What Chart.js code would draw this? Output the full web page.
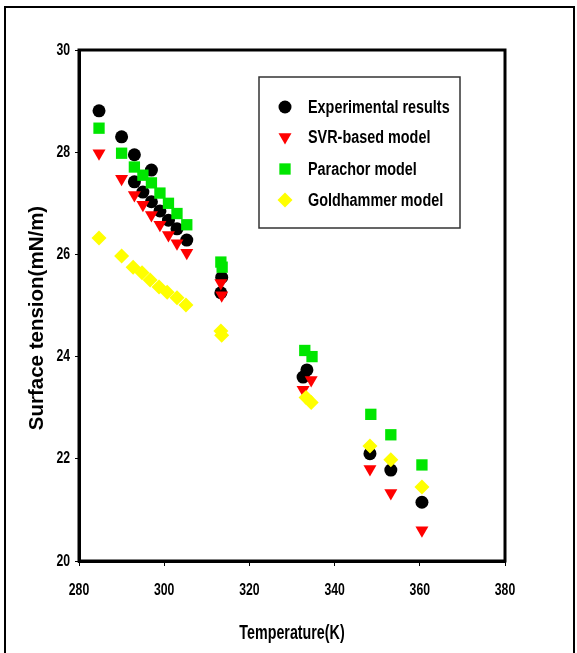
<!DOCTYPE html>
<html>
<head>
<meta charset="utf-8">
<script src="https://cdn.jsdelivr.net/npm/chart.js@4.4.1/dist/chart.umd.min.js"></script>
<style>
  html, body { margin: 0; padding: 0; background: #fff; }
  #wrap { position: relative; width: 577px; height: 653px; }
</style>
</head>
<body>
<div id="wrap"><canvas id="myChart" width="577" height="653"></canvas></div>
<script>
// series data
const expT  = [284.7, 290, 293, 297, 293, 295, 297, 299, 301, 303, 305.3, 313.3, 313.5, 332.6, 333.5, 348.3, 353.2, 360.5];
const expST = [28.81, 28.30, 27.95, 27.65, 27.42, 27.22, 27.03, 26.85, 26.67, 26.50, 26.28, 25.25, 25.55, 23.60, 23.74, 22.10, 21.78, 21.15];

const svrT  = [284.7, 290, 293, 295, 297, 299, 301, 303, 305.3, 313.3, 313.5, 332.6, 334.5, 348.3, 353.2, 360.5];
const svrST = [27.98, 27.48, 27.16, 26.97, 26.77, 26.58, 26.38, 26.22, 26.03, 25.44, 25.20, 23.35, 23.54, 21.80, 21.33, 20.60];

const parT  = [284.7, 290, 293, 295, 297, 299, 301, 303, 305.3, 313.3, 313.6, 333, 334.7, 348.5, 353.2, 360.5];
const parST = [28.47, 27.98, 27.71, 27.55, 27.40, 27.20, 27.00, 26.80, 26.58, 25.85, 25.75, 24.12, 24.00, 22.87, 22.47, 21.88];

const golT  = [284.7, 290, 292.7, 294.8, 296.7, 298.8, 300.7, 303, 305.1, 313.3, 313.5, 333.3, 334.5, 348.3, 353.2, 360.5];
const golST = [26.32, 25.97, 25.75, 25.64, 25.50, 25.36, 25.26, 25.15, 25.01, 24.50, 24.42, 23.20, 23.10, 22.25, 21.98, 21.45];

const seriesNames = ['Experimental results', 'SVR-based model', 'Parachor model', 'Goldhammer model'];
const xTicks = [280, 300, 320, 340, 360, 380];
const yTicks = [20, 22, 24, 26, 28, 30];
const xTitle = 'Temperature(K)';
const yTitle = 'Surface tension(mN/m)';

const sans = "'Liberation Sans', Arial, sans-serif";

function pts(xs, ys) {
  return xs.map((x, i) => ({ x: x, y: ys[i] }));
}

// no narrow font installed, so squeeze the text horizontally
function squeezed(c, text, x, y, align, size, sx) {
  c.save();
  c.translate(x, y);
  c.scale(sx, 1);
  c.font = 'bold ' + size + 'px ' + sans;
  c.textAlign = align;
  c.textBaseline = 'middle';
  c.fillStyle = '#000';
  c.fillText(text, 0, 0);
  c.restore();
}

// frame, plot box, tick labels, titles and legend box
const decor = {
  id: 'decor',
  afterDraw(chart) {
    const c = chart.ctx;
    const a = chart.chartArea;
    const sx = chart.scales.x;
    const sy = chart.scales.y;
    c.save();
    c.strokeStyle = '#000';
    c.lineWidth = 2;
    c.strokeRect(5, 7, 569, 660);
    c.lineWidth = 3;
    c.strokeRect(a.left, a.top, a.right - a.left, a.bottom - a.top);

    xTicks.forEach(v => squeezed(c, String(v), sx.getPixelForValue(v), a.bottom + 29, 'center', 17, 0.72));
    yTicks.forEach(v => squeezed(c, String(v), a.left - 9, sy.getPixelForValue(v), 'right', 17, 0.72));
    squeezed(c, xTitle, (a.left + a.right) / 2, 633, 'center', 21, 0.68);

    c.save();
    c.translate(37, 318);
    c.rotate(-Math.PI / 2);
    c.font = 'bold 20.5px ' + sans;
    c.textAlign = 'center';
    c.textBaseline = 'middle';
    c.fillStyle = '#000';
    c.fillText(yTitle, 0, 0);
    c.restore();

    // legend
    c.lineWidth = 1.5;
    c.strokeStyle = '#333';
    c.strokeRect(259, 77, 201, 151);
    const rows = [107, 137, 169, 200];
    chart.data.datasets.forEach((ds, i) => {
      c.fillStyle = ds.backgroundColor;
      Chart.helpers.drawPoint(c, {
        pointStyle: ds.pointStyle,
        radius: ds.pointRadius,
        rotation: ds.rotation || 0,
        borderWidth: 0
      }, 285, rows[i]);
      squeezed(c, seriesNames[i], 308, rows[i] + 1, 'left', 18, 0.8);
    });
    c.restore();
  }
};

const ctx = document.getElementById('myChart');

const myChart = new Chart(ctx, {
  type: 'scatter',
  data: {
    datasets: [
      {
        label: seriesNames[0],
        data: pts(expT, expST),
        backgroundColor: '#000000',
        pointStyle: 'circle',
        pointRadius: 6.5,
        borderWidth: 0,
        order: 4,
      },
      {
        label: seriesNames[1],
        data: pts(svrT, svrST),
        backgroundColor: '#ff0000',
        pointStyle: 'triangle',
        rotation: 180,
        pointRadius: 7.5,
        borderWidth: 0,
        order: 3,
      },
      {
        label: seriesNames[2],
        data: pts(parT, parST),
        backgroundColor: '#00e600',
        pointStyle: 'rect',
        pointRadius: 8,
        borderWidth: 0,
        order: 2,
      },
      {
        label: seriesNames[3],
        data: pts(golT, golST),
        backgroundColor: '#ffff00',
        pointStyle: 'rectRot',
        pointRadius: 7.5,
        borderWidth: 0,
        order: 1,
      },
    ],
  },
  options: {
    responsive: false,
    animation: false,
    layout: {
      padding: { left: 20, top: 50, right: 72, bottom: 10 },
    },
    plugins: {
      legend: { display: false },
      tooltip: { enabled: false },
    },
    scales: {
      x: {
        type: 'linear',
        min: 280,
        max: 380,
        afterBuildTicks: (s) => { s.ticks = xTicks.map(v => ({ value: v })); },
        afterFit: (s) => { s.height = 82; },
        border: { display: true, color: '#000', width: 3 },
        grid: { display: true, drawOnChartArea: false, color: '#000', lineWidth: 1, tickLength: 5 },
        ticks: { display: false },
        title: { display: false },
      },
      y: {
        type: 'linear',
        min: 20,
        max: 30,
        afterBuildTicks: (s) => { s.ticks = yTicks.map(v => ({ value: v })); },
        afterFit: (s) => { s.width = 59; },
        border: { display: true, color: '#000', width: 3 },
        grid: { display: true, drawOnChartArea: false, color: '#000', lineWidth: 1, tickLength: 4 },
        ticks: { display: false },
        title: { display: false },
      },
    },
  },
  plugins: [decor],
});
</script>
</body>
</html>
